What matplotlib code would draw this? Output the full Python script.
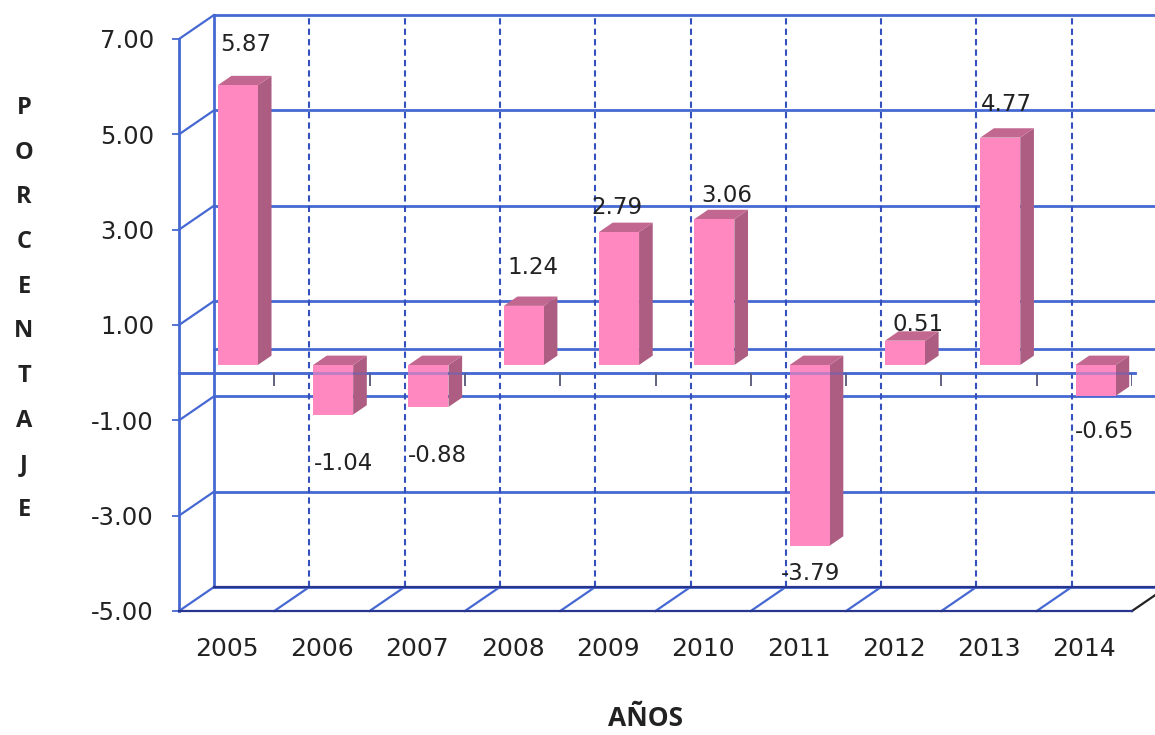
import matplotlib
matplotlib.use('Agg')
import matplotlib.pyplot as plt
from matplotlib.patches import Polygon

years = ['2005', '2006', '2007', '2008', '2009', '2010', '2011', '2012', '2013', '2014']
values = [5.87, -1.04, -0.88, 1.24, 2.79, 3.06, -3.79, 0.51, 4.77, -0.65]
y_ticks = [-5, -3, -1, 1, 3, 5, 7]

# label position relative to the top of each bar, in pixels
label_dx = [8, 10, 9, 9, -2, 12, 1, 13, 6, 9]
label_dy = [41, -49, -49, 38, 24, 24, -28, 16, 33, -36]

BLUE = '#4668d2'
DARK = '#27358f'
FRONT = '#ff88c0'
SIDE = '#ad5c82'
TOP = '#c2678f'

W, H = 1155, 735
# front plane of the fake 3D box, in pixels
LEFT, RIGHT, TOP_PX, BOTTOM_PX = 179, 1132, 39, 611
PX_X = (RIGHT - LEFT) / 10
PX_Y = (BOTTOM_PX - TOP_PX) / 12

# depth of the box, in data units
DEPTH_X = 35 / PX_X
DEPTH_Y = 24 / PX_Y

# bars sit at this fraction of the depth
BAR_D0 = 0.32
BAR_D1 = 0.71
BAR_W = 0.42

fig = plt.figure(figsize=(W / 100, H / 100), dpi=100)
ax = fig.add_axes([LEFT / W, 1 - BOTTOM_PX / H, (RIGHT - LEFT) / W, (BOTTOM_PX - TOP_PX) / H])
ax.set_xlim(0, 10)
ax.set_ylim(-5, 7)
ax.patch.set_visible(False)

# back wall
right_end = 10.6
for t in y_ticks:
    ax.plot([DEPTH_X, right_end], [t + DEPTH_Y] * 2, color=BLUE, lw=2, clip_on=False, zorder=1)
    ax.plot([0, DEPTH_X], [t, t + DEPTH_Y], color=BLUE, lw=1.6, clip_on=False, zorder=1)
ax.plot([DEPTH_X, right_end], [DEPTH_Y - 5] * 2, color=DARK, lw=1.6, clip_on=False, zorder=1.1)
ax.plot([DEPTH_X, right_end], [DEPTH_Y, DEPTH_Y], color=BLUE, lw=2, clip_on=False, zorder=1)
ax.plot([DEPTH_X, DEPTH_X], [DEPTH_Y - 5, DEPTH_Y + 7], color=BLUE, lw=2, clip_on=False, zorder=1)

# dashed verticals and floor
for k in range(1, 10):
    ax.plot([k + DEPTH_X] * 2, [DEPTH_Y - 5, DEPTH_Y + 7], color='#3350bd', lw=1.5,
            ls=(0, (3, 2)), clip_on=False, zorder=1)
    ax.plot([k, k + DEPTH_X], [-5, DEPTH_Y - 5], color=BLUE, lw=1.6, clip_on=False, zorder=1)
ax.plot([10, 10 + DEPTH_X], [-5, DEPTH_Y - 5], color='#222222', lw=1.6, clip_on=False, zorder=1)

# zero plane front line with its ticks
ax.plot([0, 10.03], [0, 0], color=BLUE, lw=2, clip_on=False, zorder=1.5)
ax.vlines(range(1, 11), -0.27, 0, color='#555577', lw=1.3, zorder=1.5)

# bars
x_front = [k + 0.5 - BAR_W / 2 + BAR_D0 * DEPTH_X for k in range(len(values))]
y_base = BAR_D0 * DEPTH_Y
d = (BAR_D1 - BAR_D0)
for xf, v in zip(x_front, values):
    x0, x1 = xf, xf + BAR_W
    y0, y1 = y_base, y_base + v
    hi = max(y0, y1)
    ox, oy = d * DEPTH_X, d * DEPTH_Y
    ax.add_patch(Polygon([(x1, y0), (x1 + ox, y0 + oy), (x1 + ox, y1 + oy), (x1, y1)],
                         facecolor=SIDE, edgecolor='none', zorder=2))
    ax.add_patch(Polygon([(x0, hi), (x1, hi), (x1 + ox, hi + oy), (x0 + ox, hi + oy)],
                         facecolor=TOP, edgecolor='none', zorder=2))
ax.bar(x_front, values, width=BAR_W, bottom=y_base, align='edge', color=FRONT, zorder=3)

# the zero line shows faintly through the bars
ax.plot([0, 10.03], [0, 0], color=BLUE, lw=2, alpha=0.35, clip_on=False, zorder=4)

# value labels
for xf, v, dx, dy in zip(x_front, values, label_dx, label_dy):
    ax.annotate(f'{v:.2f}', (xf + BAR_W / 2, y_base + v), xytext=(dx, dy),
                textcoords='offset pixels', ha='center', va='center',
                fontsize=16.5, color='#222222', zorder=5)

# axes
for side in ['top', 'right']:
    ax.spines[side].set_visible(False)
ax.spines['left'].set_color(BLUE)
ax.spines['left'].set_linewidth(2)
ax.spines['bottom'].set_color(DARK)
ax.spines['bottom'].set_linewidth(1.6)
ax.set_yticks(y_ticks, [f'{t:.2f}' for t in y_ticks])
ax.set_xticks([k + 0.5 for k in range(len(years))], years)
ax.tick_params(axis='y', length=5, width=1.3, color=BLUE, pad=13, labelsize=17.5, labelcolor='#222222')
ax.tick_params(axis='x', length=0, pad=19, labelsize=18, labelcolor='#222222')

fig.text(24 / W, 1 - 309 / H, '\n'.join('PORCENTAJE'), family='Open Sans', weight='bold',
         fontsize=17, color='#222222', ha='center', va='center', linespacing=2.15)
fig.text(645 / W, 1 - 718 / H, 'AÑOS', family='Open Sans', weight='bold',
         fontsize=19, color='#222222', ha='center', va='center')

fig.savefig('out.png', dpi=100)
